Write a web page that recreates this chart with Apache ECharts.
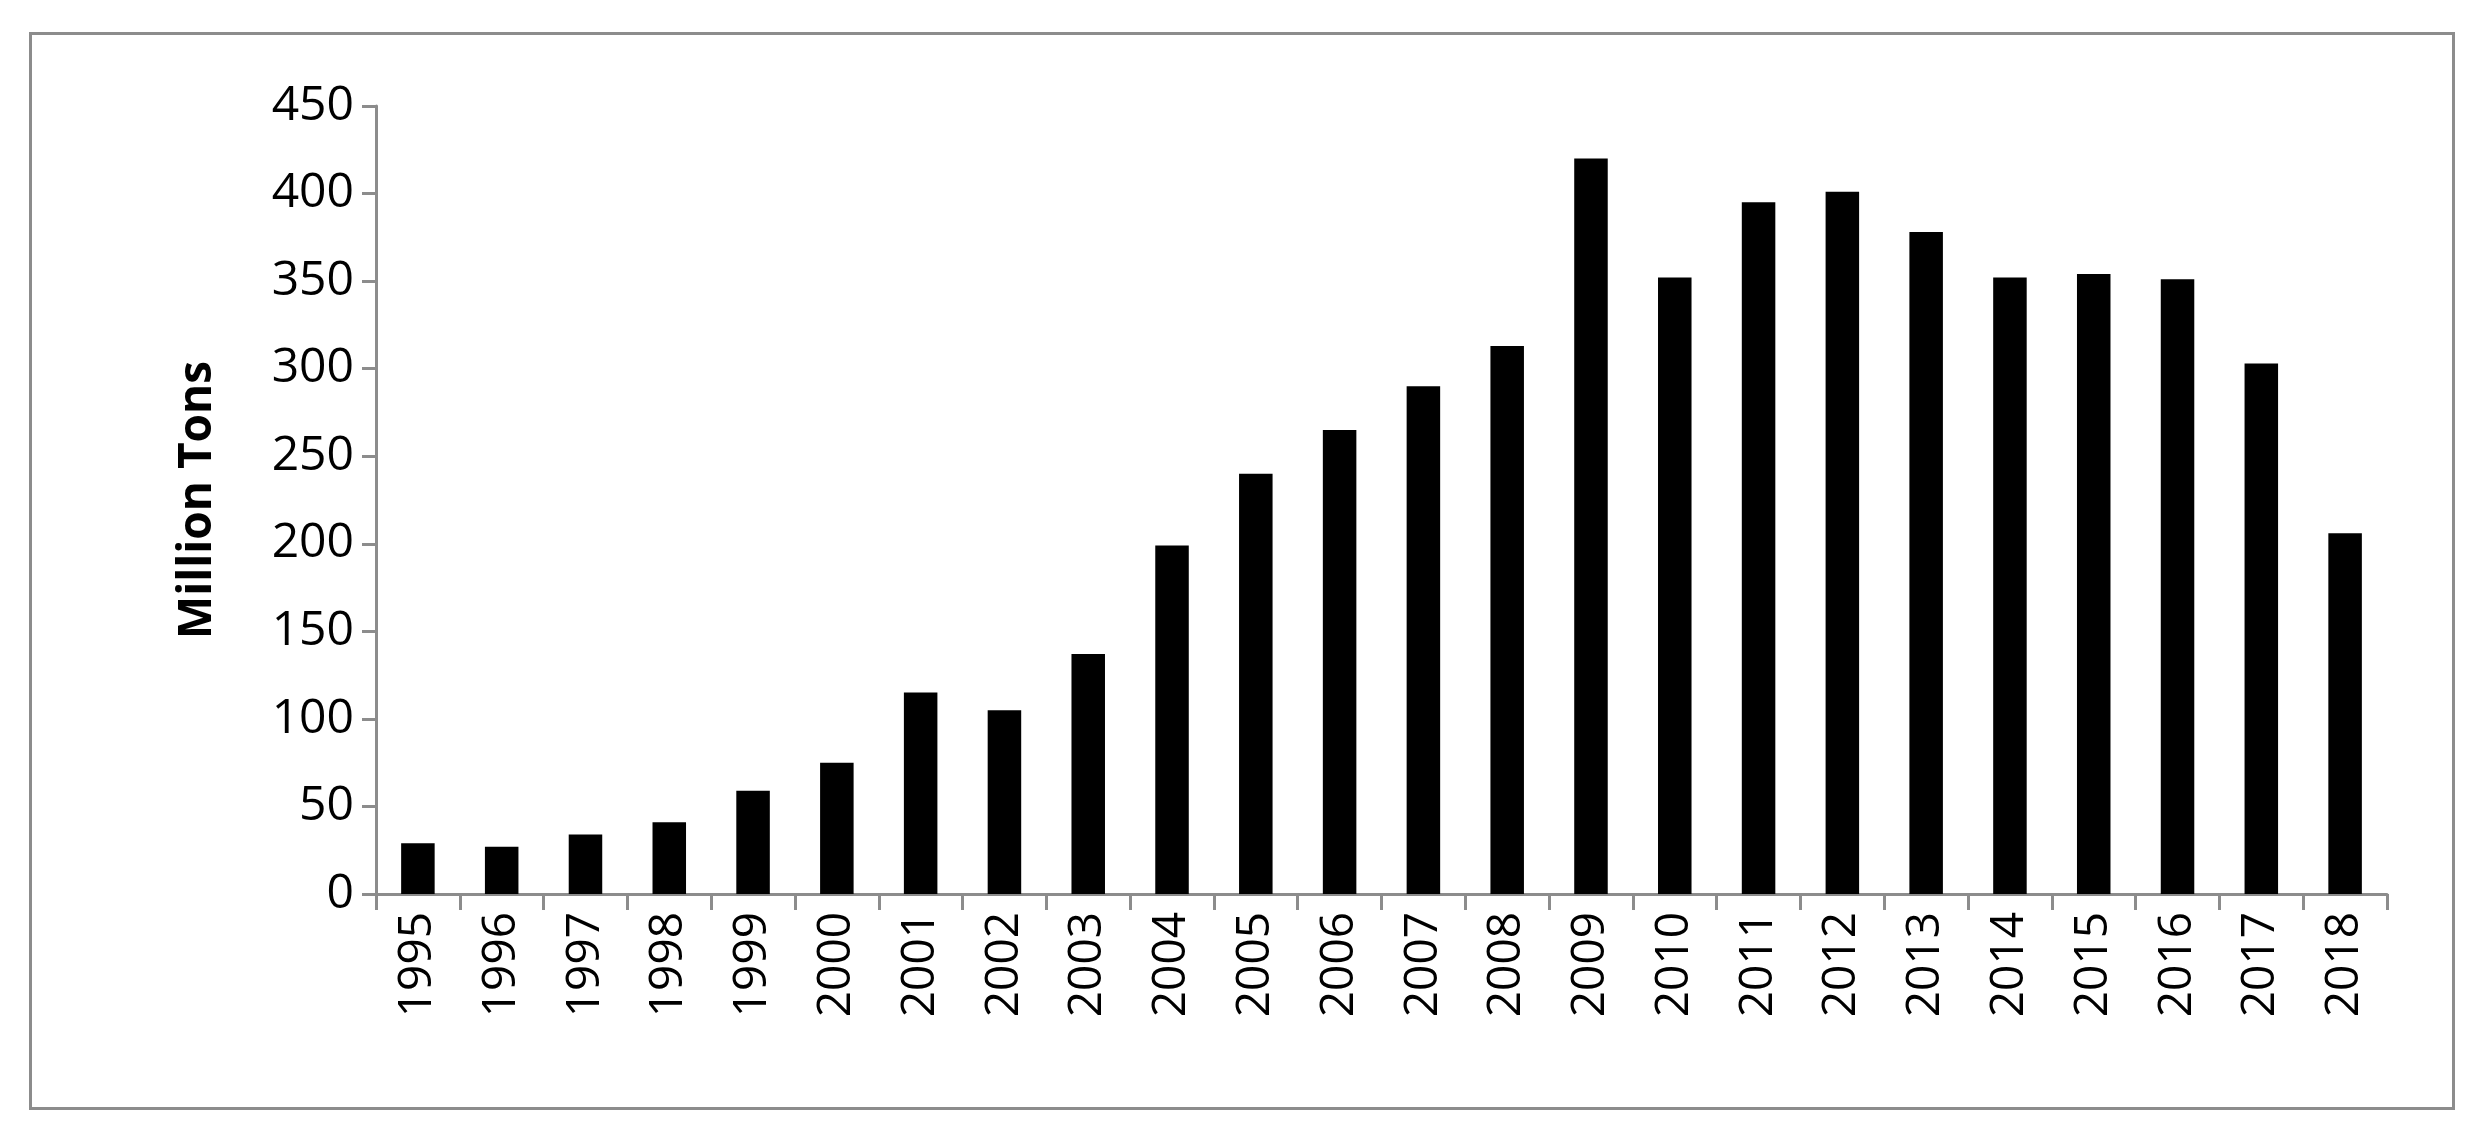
<!DOCTYPE html>
<html><head><meta charset="utf-8">
<script src="https://cdn.jsdelivr.net/npm/echarts@6/dist/echarts.min.js"></script>
<style>html,body{margin:0;padding:0;background:#fff}#c{width:2489px;height:1142px}
#b{position:absolute;left:29px;top:32px;width:2426px;height:1078px;border:3px solid #8c8c8c;box-sizing:border-box;pointer-events:none}</style>
</head><body><div id="c"></div><div id="b"></div>
<script>
const categories=['1995','1996','1997','1998','1999','2000','2001','2002','2003','2004','2005','2006','2007','2008','2009','2010','2011','2012','2013','2014','2015','2016','2017','2018'];
const values=[29,27,34,41,59,75,115,105,137,199,240,265,290,313,420,352,395,401,378,352,354,351,303,206];
const yTicks=[0,50,100,150,200,250,300,350,400,450];
const ch=echarts.init(document.getElementById('c'));
const ff='"Open Sans", "Liberation Sans", sans-serif';
ch.setOption({
 animation:false,
 grid:{left:376,right:102,top:106,bottom:248},
 xAxis:{type:'category',data:categories,
  axisLine:{lineStyle:{color:'#8c8c8c',width:3}},
  axisTick:{show:true,length:16,lineStyle:{color:'#8c8c8c',width:3}},
  axisLabel:{rotate:90,fontSize:46,color:'#000',fontFamily:ff,margin:18}},
 yAxis:{type:'value',min:0,max:450,interval:50,name:'Million Tons',nameLocation:'middle',nameGap:155,
  nameTextStyle:{fontSize:46,fontWeight:'bold',color:'#000',fontFamily:ff},
  axisLine:{show:true,lineStyle:{color:'#8c8c8c',width:3}},
  axisTick:{show:true,length:14,lineStyle:{color:'#8c8c8c',width:3}},
  splitLine:{show:false},
  axisLabel:{fontSize:48,color:'#000',fontFamily:ff,margin:22,formatter:v=>yTicks.includes(v)?String(v):''}},
 series:[{type:'bar',data:values,barWidth:'40%',itemStyle:{color:'#000'}}]
});
</script></body></html>
